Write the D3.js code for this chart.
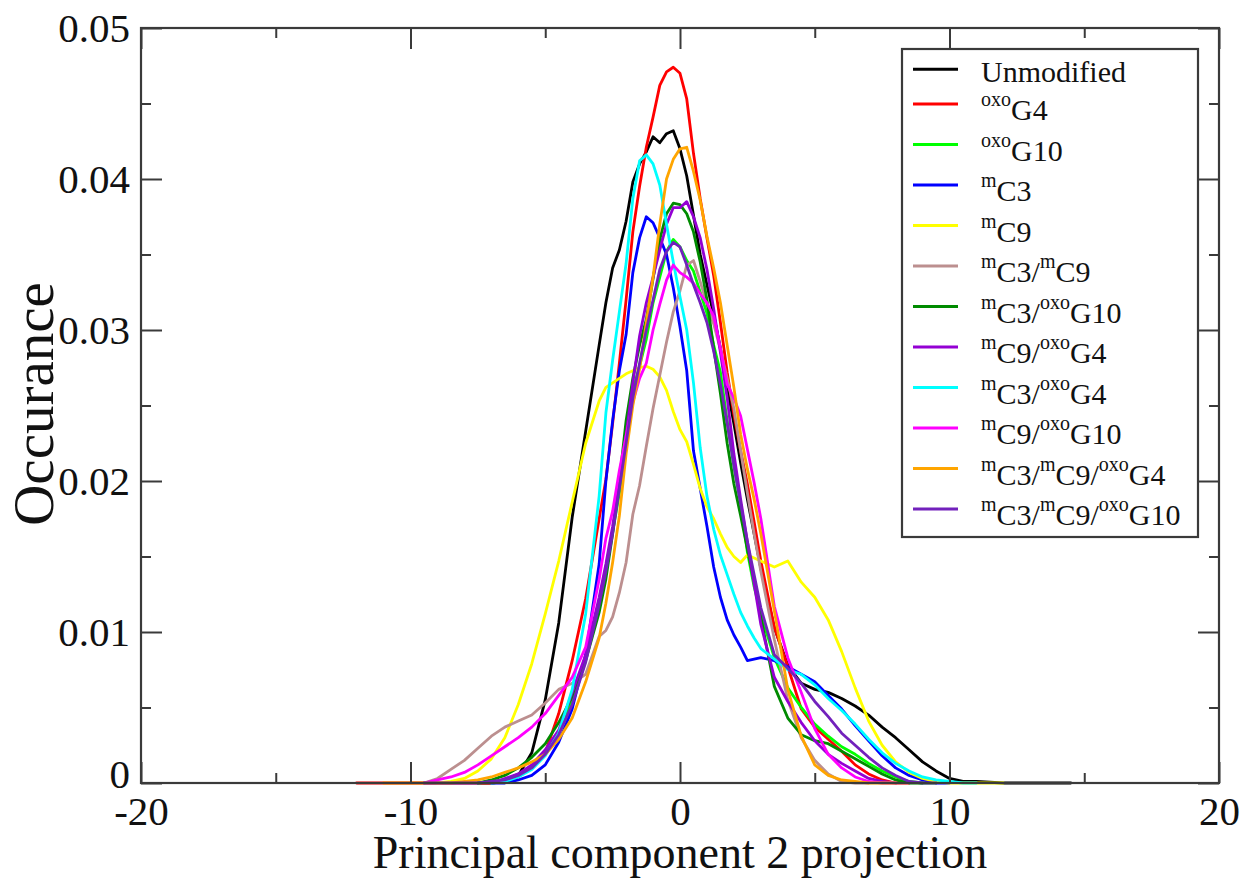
<!DOCTYPE html>
<html>
<head>
<meta charset="utf-8">
<script src="https://cdn.jsdelivr.net/npm/d3@7"></script>
<style>
  html, body { margin: 0; padding: 0; background: #fff; }
  svg { display: block; }
  text { font-family: "Liberation Serif", "Times New Roman", serif; fill: #111; }
</style>
</head>
<body>
<svg id="chart" width="1247" height="879"></svg>
<script>
// PC2 projection histogram bins (shared by every series); null = no data
const projection = [
  -12, -11, -10, -9.5, -9, -8.5, -8, -7.5, -7, -6.5, -6, -5.5, -5, -4.5, -4, -3.5,
  -3, -2.75, -2.5, -2.25, -2, -1.75, -1.5, -1.25, -1, -0.75, -0.5, -0.25, 0, 0.25, 0.5, 0.75, 1, 1.25, 1.5, 1.75, 2, 2.25, 2.5, 2.75, 3,
  3.5, 4, 4.5, 5, 5.5, 6, 6.5, 7, 7.5, 8, 8.5, 9, 9.5, 10, 10.5, 11,
  12, 13, 14.5
];

const unmodified = [
  null, null, null, null, null, null, null, 0, 0, 0.0001, 0.0005, 0.0020, 0.0055, 0.0106, 0.0176, 0.0233,
  0.0290, 0.0318, 0.0341, 0.0353, 0.0372, 0.0398, 0.0410, 0.0418, 0.0428, 0.0424, 0.0430, 0.0432, 0.0420, 0.0402, 0.0376, 0.0350, 0.0330, 0.0310, 0.0288, 0.0262, 0.0238, 0.0212, 0.0188, 0.0165, 0.0142,
  0.0103, 0.0078, 0.0066, 0.0062, 0.0060, 0.0056, 0.0051, 0.0045, 0.0037, 0.0030, 0.0022, 0.0014, 0.0008, 0.0003, 0.0001, 0.0001,
  0, 0, 0
];
const oxoG4 = [
  0, 0, 0, 0, 0, 0, 0, 0, 0, 0.0001, 0.0004, 0.0010, 0.0020, 0.0046, 0.0081, 0.0122,
  0.0175, 0.0201, 0.0238, 0.0278, 0.0320, 0.0365, 0.0395, 0.0421, 0.0441, 0.0462, 0.0471, 0.0474, 0.0470, 0.0453, 0.0417, 0.0387, 0.0361, 0.0336, 0.0305, 0.0272, 0.0244, 0.0220, 0.0198, 0.0173, 0.0147,
  0.0103, 0.0077, 0.0049, 0.0037, 0.0029, 0.0021, 0.0012, 0.0006, 0.0002, 0, 0, null, null, null, null, null,
  null, null, null
];
const oxoG10 = [
  null, null, null, null, null, null, null, 0, 0.0001, 0.0002, 0.0006, 0.0011, 0.0019, 0.0033, 0.0054, 0.0082,
  0.0119, 0.0143, 0.0166, 0.0192, 0.0226, 0.0260, 0.0276, 0.0294, 0.0318, 0.0335, 0.0352, 0.0360, 0.0355, 0.0346, 0.0339, 0.0325, 0.0311, 0.0290, 0.0272, 0.0240, 0.0210, 0.0185, 0.0153, 0.0130, 0.0112,
  0.0083, 0.0063, 0.0050, 0.0039, 0.0031, 0.0024, 0.0019, 0.0013, 0.0008, 0.0004, 0.0001, 0, 0, null, null, null,
  null, null, null
];
const mC3 = [
  null, null, null, null, null, null, null, null, 0, 0, 0.0002, 0.0005, 0.0012, 0.0027, 0.0049, 0.0085,
  0.0145, 0.0200, 0.0240, 0.0273, 0.0297, 0.0338, 0.0361, 0.0375, 0.0371, 0.0361, 0.0350, 0.0328, 0.0302, 0.0273, 0.0220, 0.0195, 0.0170, 0.0143, 0.0123, 0.0108, 0.0098, 0.0090, 0.0081, 0.0082, 0.0083,
  0.0081, 0.0077, 0.0072, 0.0067, 0.0058, 0.0049, 0.0038, 0.0028, 0.0018, 0.0010, 0.0005, 0.0002, 0, 0, null, null,
  null, null, null
];
const mC9 = [
  null, null, null, null, 0, 0.0001, 0.0003, 0.0008, 0.0016, 0.0030, 0.0052, 0.0079, 0.0112, 0.0147, 0.0186, 0.0225,
  0.0253, 0.0262, 0.0265, 0.0268, 0.0271, 0.0273, 0.0275, 0.0276, 0.0274, 0.0269, 0.0260, 0.0246, 0.0234, 0.0226, 0.0211, 0.0195, 0.0183, 0.0175, 0.0165, 0.0156, 0.0150, 0.0146, 0.0151, 0.0149, 0.0147,
  0.0143, 0.0147, 0.0133, 0.0123, 0.0108, 0.0087, 0.0063, 0.0041, 0.0025, 0.0014, 0.0007, 0.0003, 0.0001, 0, 0, 0,
  0, null, null
];
const mC3mC9 = [
  null, null, null, 0, 0.0003, 0.0009, 0.0015, 0.0023, 0.0031, 0.0037, 0.0041, 0.0045, 0.0053, 0.0062, 0.0066, 0.0072,
  0.0097, 0.0101, 0.0110, 0.0126, 0.0146, 0.0178, 0.0197, 0.0223, 0.0248, 0.0270, 0.0292, 0.0312, 0.0326, 0.0343, 0.0346, 0.0332, 0.0317, 0.0304, 0.0287, 0.0268, 0.0248, 0.0220, 0.0192, 0.0165, 0.0140,
  0.0095, 0.0055, 0.0030, 0.0015, 0.0006, 0.0001, 0, 0, null, null, null, null, null, null, null, null,
  null, null, null
];
const mC3oxoG10 = [
  null, null, null, null, null, null, null, 0, 0.0002, 0.0005, 0.0010, 0.0017, 0.0026, 0.0040, 0.0057, 0.0081,
  0.0113, 0.0135, 0.0165, 0.0200, 0.0240, 0.0268, 0.0290, 0.0307, 0.0334, 0.0360, 0.0377, 0.0384, 0.0383, 0.0377, 0.0365, 0.0345, 0.0320, 0.0288, 0.0258, 0.0225, 0.0198, 0.0177, 0.0155, 0.0134, 0.0110,
  0.0064, 0.0043, 0.0032, 0.0028, 0.0026, 0.0021, 0.0016, 0.0011, 0.0006, 0.0002, 0, 0, null, null, null, null,
  null, null, null
];
const mC9oxoG4 = [
  null, null, null, null, null, null, null, null, 0, 0.0003, 0.0006, 0.0012, 0.0022, 0.0035, 0.0060, 0.0085,
  0.0123, 0.0145, 0.0170, 0.0200, 0.0230, 0.0265, 0.0296, 0.0318, 0.0335, 0.0353, 0.0370, 0.0381, 0.0381, 0.0385, 0.0375, 0.0361, 0.0340, 0.0314, 0.0285, 0.0255, 0.0218, 0.0188, 0.0160, 0.0132, 0.0105,
  0.0070, 0.0054, 0.0040, 0.0028, 0.0019, 0.0013, 0.0008, 0.0003, 0.0001, 0, null, null, null, null, null, null,
  null, null, null
];
const mC3oxoG4 = [
  null, null, null, null, null, null, null, null, 0, 0.0001, 0.0004, 0.0009, 0.0018, 0.0033, 0.0062, 0.0112,
  0.0190, 0.0245, 0.0280, 0.0312, 0.0344, 0.0387, 0.0412, 0.0416, 0.0410, 0.0396, 0.0370, 0.0345, 0.0322, 0.0300, 0.0265, 0.0222, 0.0190, 0.0168, 0.0151, 0.0138, 0.0125, 0.0113, 0.0104, 0.0096, 0.0089,
  0.0082, 0.0075, 0.0072, 0.0065, 0.0056, 0.0048, 0.0039, 0.0029, 0.0020, 0.0013, 0.0008, 0.0004, 0.0002, 0.0001, 0, 0,
  null, null, null
];
const mC9oxoG10 = [
  null, null, null, 0, 0.0002, 0.0004, 0.0007, 0.0012, 0.0018, 0.0024, 0.0030, 0.0037, 0.0046, 0.0058, 0.0070, 0.0090,
  0.0135, 0.0162, 0.0180, 0.0207, 0.0230, 0.0252, 0.0268, 0.0278, 0.0300, 0.0317, 0.0333, 0.0343, 0.0338, 0.0335, 0.0331, 0.0324, 0.0318, 0.0309, 0.0288, 0.0264, 0.0255, 0.0243, 0.0221, 0.0199, 0.0175,
  0.0117, 0.0083, 0.0060, 0.0036, 0.0019, 0.0010, 0.0004, 0.0001, 0, 0, null, null, null, null, null, null,
  null, null, null
];
const mC3mC9oxoG4 = [
  null, 0, 0, 0, 0, 0, 0.0001, 0.0002, 0.0004, 0.0007, 0.0010, 0.0014, 0.0019, 0.0029, 0.0043, 0.0067,
  0.0096, 0.0119, 0.0146, 0.0177, 0.0218, 0.0250, 0.0274, 0.0305, 0.0335, 0.0370, 0.0400, 0.0413, 0.0420, 0.0421, 0.0405, 0.0386, 0.0362, 0.0341, 0.0318, 0.0290, 0.0262, 0.0231, 0.0208, 0.0188, 0.0165,
  0.0114, 0.0062, 0.0031, 0.0012, 0.0005, 0.0002, 0.0001, 0, 0, 0, null, null, null, null, null, null,
  null, null, null
];
const mC3mC9oxoG10 = [
  null, null, null, 0, 0, 0, 0, 0, 0.0001, 0.0002, 0.0005, 0.0010, 0.0019, 0.0032, 0.0052, 0.0080,
  0.0118, 0.0140, 0.0165, 0.0195, 0.0225, 0.0255, 0.0278, 0.0300, 0.0320, 0.0340, 0.0352, 0.0358, 0.0355, 0.0343, 0.0330, 0.0318, 0.0305, 0.0286, 0.0264, 0.0238, 0.0210, 0.0185, 0.0160, 0.0138, 0.0116,
  0.0085, 0.0076, 0.0066, 0.0054, 0.0044, 0.0033, 0.0025, 0.0017, 0.0010, 0.0005, 0.0001, 0, 0, null, null, null,
  null, null, null
];

// Legend labels as [superscript, text] pieces
const seriesLabels = [
  [["", "Unmodified"]],
  [["oxo", "G4"]],
  [["oxo", "G10"]],
  [["m", "C3"]],
  [["m", "C9"]],
  [["m", "C3/"], ["m", "C9"]],
  [["m", "C3/"], ["oxo", "G10"]],
  [["m", "C9/"], ["oxo", "G4"]],
  [["m", "C3/"], ["oxo", "G4"]],
  [["m", "C9/"], ["oxo", "G10"]],
  [["m", "C3/"], ["m", "C9/"], ["oxo", "G4"]],
  [["m", "C3/"], ["m", "C9/"], ["oxo", "G10"]]
];
const seriesValues = [unmodified, oxoG4, oxoG10, mC3, mC9, mC3mC9, mC3oxoG10, mC9oxoG4, mC3oxoG4, mC9oxoG10, mC3mC9oxoG4, mC3mC9oxoG10];
const seriesColors = ["#000000", "#ff0000", "#00ff00", "#0000ff", "#ffff00", "#bc8f8f",
                      "#008b00", "#9400d3", "#00ffff", "#ff00ff", "#ffa500", "#7221bc"];

const xMajor = [-20, -10, 0, 10, 20];
const xMinor = [-15, -5, 5, 15];
const yMajor = [0, 0.01, 0.02, 0.03, 0.04, 0.05];
const yMinor = [0.005, 0.015, 0.025, 0.035, 0.045];

const svg = d3.select("#chart");
const frame = { left: 141, right: 1219, top: 28, bottom: 783 };

const x = d3.scaleLinear().domain([-20, 20]).range([frame.left, frame.right]);
const y = d3.scaleLinear().domain([0, 0.05]).range([frame.bottom, frame.top]);

const axisColor = "#3a3a3a";
const majorLen = 21, minorLen = 10;
const serif = "Liberation Serif, Times New Roman, serif";

function styleAxis(g) {
  g.select(".domain").remove();
  g.selectAll(".tick line").attr("stroke", axisColor).attr("stroke-width", 2);
}

// Curves
const line = d3.line()
  .defined(d => d[1] !== null)
  .x(d => x(d[0]))
  .y(d => y(d[1]));

const curves = svg.append("g").attr("fill", "none")
  .attr("stroke-width", 2.8).attr("stroke-linejoin", "round").attr("stroke-linecap", "round");
seriesValues.forEach((vals, i) => {
  curves.append("path")
    .datum(projection.map((p, j) => [p, vals[j]]))
    .attr("stroke", seriesColors[i])
    .attr("d", line);
});

// Ticks on all four sides, pointing inward
svg.append("g").attr("transform", `translate(0,${frame.bottom})`)
  .call(d3.axisBottom(x).tickValues(xMajor).tickSizeInner(-majorLen).tickSizeOuter(0)
    .tickPadding(13).tickFormat(d => String(d)))
  .call(styleAxis)
  .call(g => g.selectAll("text").attr("font-size", 41).attr("fill", "#111").attr("font-family", serif));
svg.append("g").attr("transform", `translate(0,${frame.bottom})`)
  .call(d3.axisBottom(x).tickValues(xMinor).tickSizeInner(-minorLen).tickSizeOuter(0).tickFormat(""))
  .call(styleAxis);
svg.append("g").attr("transform", `translate(0,${frame.top})`)
  .call(d3.axisTop(x).tickValues(xMajor).tickSizeInner(-majorLen).tickSizeOuter(0).tickFormat(""))
  .call(styleAxis);
svg.append("g").attr("transform", `translate(0,${frame.top})`)
  .call(d3.axisTop(x).tickValues(xMinor).tickSizeInner(-minorLen).tickSizeOuter(0).tickFormat(""))
  .call(styleAxis);

svg.append("g").attr("transform", `translate(${frame.left},0)`)
  .call(d3.axisLeft(y).tickValues(yMajor).tickSizeInner(-majorLen).tickSizeOuter(0)
    .tickPadding(11).tickFormat(d => d === 0 ? "0" : d.toFixed(2)))
  .call(styleAxis)
  .call(g => g.selectAll("text").attr("font-size", 41).attr("fill", "#111").attr("font-family", serif))
  .call(g => g.selectAll(".tick").filter(d => d === 0).select("text").attr("dy", "0.12em"));
svg.append("g").attr("transform", `translate(${frame.left},0)`)
  .call(d3.axisLeft(y).tickValues(yMinor).tickSizeInner(-minorLen).tickSizeOuter(0).tickFormat(""))
  .call(styleAxis);
svg.append("g").attr("transform", `translate(${frame.right},0)`)
  .call(d3.axisRight(y).tickValues(yMajor).tickSizeInner(-majorLen).tickSizeOuter(0).tickFormat(""))
  .call(styleAxis);
svg.append("g").attr("transform", `translate(${frame.right},0)`)
  .call(d3.axisRight(y).tickValues(yMinor).tickSizeInner(-minorLen).tickSizeOuter(0).tickFormat(""))
  .call(styleAxis);

// Plot frame
svg.append("rect")
  .attr("x", frame.left).attr("y", frame.top)
  .attr("width", frame.right - frame.left).attr("height", frame.bottom - frame.top)
  .attr("fill", "none").attr("stroke", axisColor).attr("stroke-width", 2.2);

// Axis titles
svg.append("text")
  .attr("x", (frame.left + frame.right) / 2).attr("y", 868)
  .attr("text-anchor", "middle").attr("font-size", 46)
  .text("Principal component 2 projection");
svg.append("text")
  .attr("transform", `translate(53,404) rotate(-90)`)
  .attr("text-anchor", "middle").attr("font-size", 57)
  .text("Occurance");

// Legend
const legend = svg.append("g");
legend.append("rect")
  .attr("x", 902).attr("y", 49).attr("width", 296).attr("height", 488)
  .attr("fill", "#fff").attr("stroke", axisColor).attr("stroke-width", 2.2);

seriesLabels.forEach((parts, i) => {
  const hasSup = parts.some(p => p[0] !== "");
  const ly = i === 0 ? 69.3 : 104 + (i - 1) * 40.5;
  legend.append("line")
    .attr("x1", 913).attr("x2", 958).attr("y1", ly).attr("y2", ly)
    .attr("stroke", seriesColors[i]).attr("stroke-width", 3);
  const t = legend.append("text")
    .attr("x", 981).attr("y", ly + (hasSup ? 16 : 12.4))
    .attr("font-size", 30);
  parts.forEach(([sup, txt]) => {
    if (sup) {
      t.append("tspan").attr("font-size", 20).attr("dy", -14).text(sup);
      t.append("tspan").attr("dy", 14).text(txt);
    } else {
      t.append("tspan").text(txt);
    }
  });
});
</script>
</body>
</html>
